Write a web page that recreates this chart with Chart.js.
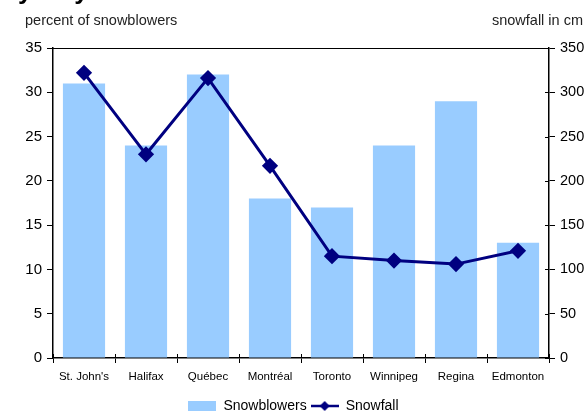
<!DOCTYPE html>
<html>
<head>
<meta charset="utf-8">
<script src="https://cdn.jsdelivr.net/npm/chart.js@4/dist/chart.umd.min.js"></script>
<style>
  html, body { margin: 0; padding: 0; background: #fff; }
  #chart { display: block; }
</style>
</head>
<body>
<canvas id="chart" width="587" height="413"></canvas>
<script>
// cities and values
const cities = ["St. John's", "Halifax", "Québec", "Montréal", "Toronto", "Winnipeg", "Regina", "Edmonton"];
const snowblowers = [31, 24, 32, 18, 17, 24, 29, 13];   // percent of households
const snowfall = [322, 230, 316, 217, 115, 110, 106, 121]; // cm per year

const BAR_COLOR = "#99ccff";
const LINE_COLOR = "#000080";
const FONT = "'Liberation Sans', Arial, sans-serif";

// little legend swatches
function barSwatch() {
  const c = document.createElement("canvas");
  c.width = 28; c.height = 10;
  const g = c.getContext("2d");
  g.fillStyle = BAR_COLOR;
  g.fillRect(0, 0, 28, 10);
  return c;
}
function lineSwatch() {
  const c = document.createElement("canvas");
  c.width = 28; c.height = 12;
  const g = c.getContext("2d");
  g.strokeStyle = LINE_COLOR;
  g.lineWidth = 2.5;
  g.beginPath(); g.moveTo(0, 6); g.lineTo(28, 6); g.stroke();
  g.fillStyle = LINE_COLOR;
  g.beginPath(); g.moveTo(14, 1); g.lineTo(19, 6); g.lineTo(14, 11); g.lineTo(9, 6); g.closePath(); g.fill();
  return c;
}

// headings above the axes, frame top and the inner halves of the ticks
const extras = {
  id: "extras",
  afterDraw(chart) {
    const { ctx, chartArea: a, scales } = chart;
    ctx.save();
    ctx.strokeStyle = "#000";
    ctx.lineWidth = 1;
    ctx.beginPath();
    ctx.moveTo(a.left, a.top + 0.5);
    ctx.lineTo(a.right, a.top + 0.5);
    // right axis ticks cross the line
    scales.y1.ticks.forEach((t, i) => {
      const y = Math.round(scales.y1.getPixelForTick(i)) + 0.5;
      ctx.moveTo(a.right - 4, y);
      ctx.lineTo(a.right, y);
    });
    // category ticks cross the base line
    const xs = scales.x;
    for (let i = 0; i <= cities.length; i++) {
      const x = Math.round(xs.left + (xs.width * i) / cities.length) + 0.5;
      ctx.moveTo(x, a.bottom - 4);
      ctx.lineTo(x, a.bottom);
    }
    ctx.stroke();

    ctx.fillStyle = "#000";
    ctx.font = "bold 26px " + FONT;
    ctx.textBaseline = "alphabetic";
    ctx.textAlign = "left";
    ctx.fillText("by City", 2, -1);

    ctx.fillStyle = "#222";
    ctx.font = "14.5px " + FONT;
    ctx.textBaseline = "middle";
    ctx.fillText("percent of snowblowers", 25, 21);
    ctx.textAlign = "right";
    ctx.fillText("snowfall in cm", 583, 21);
    ctx.restore();
  }
};

new Chart(document.getElementById("chart"), {
  data: {
    labels: cities,
    datasets: [
      {
        type: "line",
        label: "Snowfall",
        data: snowfall,
        yAxisID: "y1",
        borderColor: LINE_COLOR,
        backgroundColor: LINE_COLOR,
        borderWidth: 3,
        pointStyle: "rectRot",
        pointRadius: 6,
        pointHoverRadius: 6,
        tension: 0,
        order: 0
      },
      {
        type: "bar",
        label: "Snowblowers",
        data: snowblowers,
        yAxisID: "y",
        backgroundColor: BAR_COLOR,
        borderWidth: 0,
        categoryPercentage: 1,
        barPercentage: 0.68,
        order: 1
      }
    ]
  },
  options: {
    responsive: false,
    animation: false,
    layout: { padding: { top: 48, right: 0, left: 0, bottom: -10 } },
    plugins: {
      tooltip: { enabled: false },
      legend: {
        position: "bottom",
        labels: {
          usePointStyle: true,
          pointStyleWidth: 28,
          boxHeight: 12,
          color: "#000",
          font: { family: FONT, size: 14 },
          padding: 4,
          generateLabels() {
            return [
              { text: "Snowblowers", pointStyle: barSwatch(), datasetIndex: 1, fontColor: "#000", lineWidth: 0 },
              { text: "Snowfall", pointStyle: lineSwatch(), datasetIndex: 0, fontColor: "#000", lineWidth: 0 }
            ];
          }
        }
      }
    },
    scales: {
      x: {
        offset: true,
        grid: { display: true, drawOnChartArea: false, offset: true, tickLength: 5, color: "#000" },
        border: { color: "#000", width: 1.5 },
        ticks: { color: "#000", font: { family: FONT, size: 11.5 }, padding: 7, maxRotation: 0 },
        afterFit(s) { s.height = 37; }
      },
      y: {
        position: "left",
        min: 0, max: 35,
        grid: { drawOnChartArea: false, tickLength: 6, color: "#000" },
        border: { color: "#000", width: 1.5 },
        ticks: { stepSize: 5, color: "#000", font: { family: FONT, size: 15 }, padding: 5 },
        afterFit(s) { s.width = 53; }
      },
      y1: {
        position: "right",
        min: 0, max: 350,
        grid: { drawOnChartArea: false, tickLength: 6, color: "#000" },
        border: { color: "#000", width: 1.5 },
        ticks: { stepSize: 50, color: "#000", font: { family: FONT, size: 14.5 }, padding: 5 },
        afterFit(s) { s.width = 38; }
      }
    }
  },
  plugins: [extras]
});
</script>
</body>
</html>
